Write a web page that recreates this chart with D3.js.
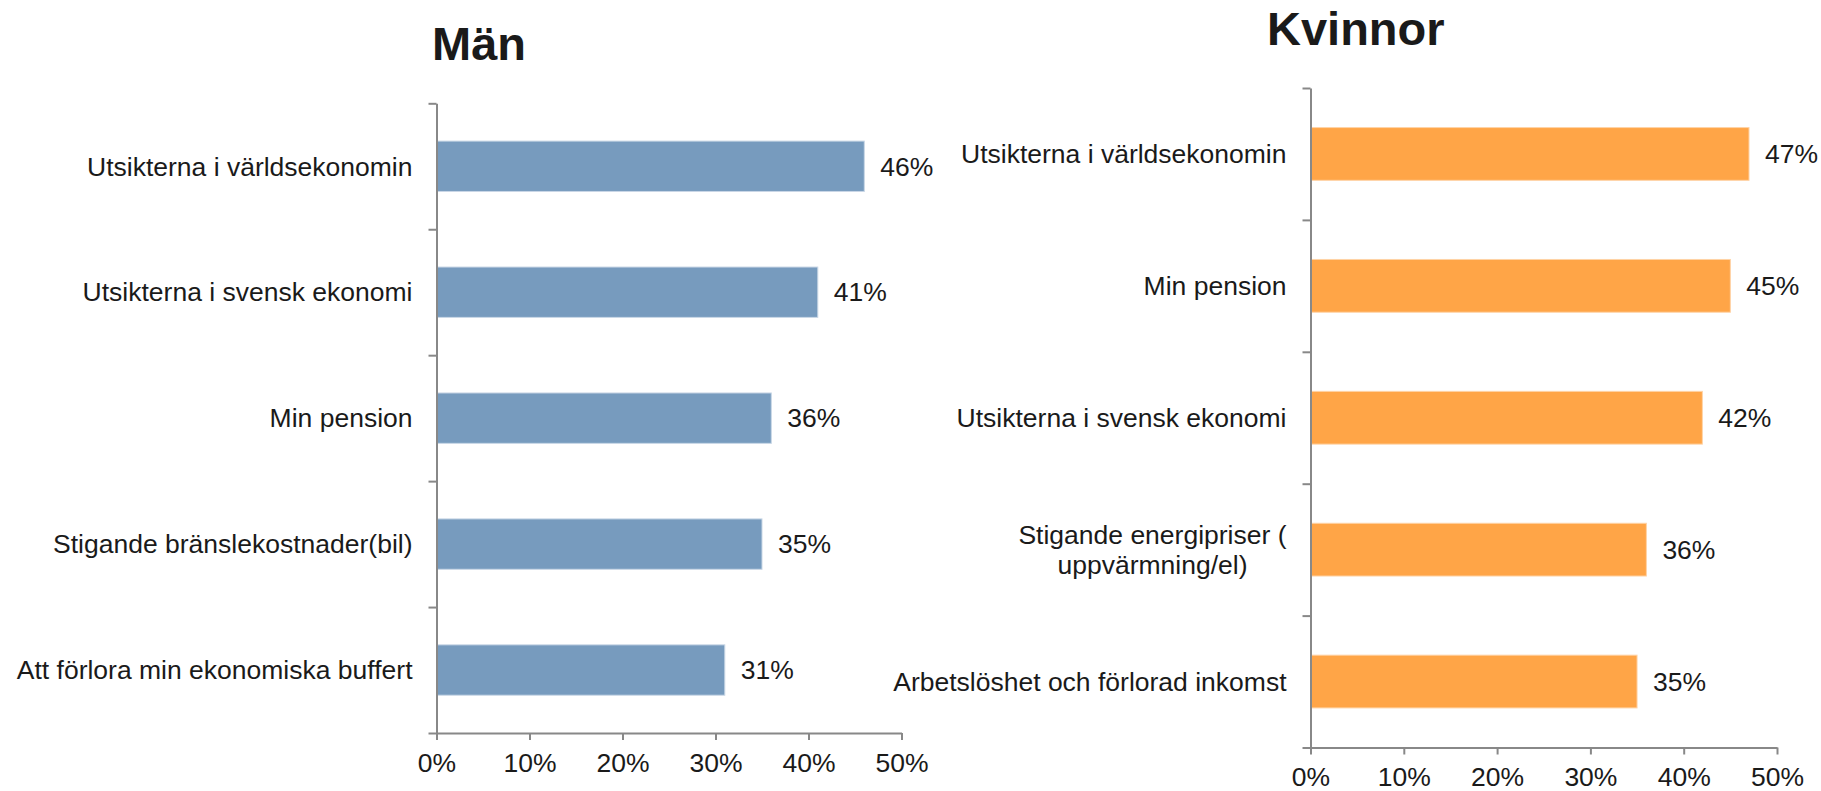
<!DOCTYPE html>
<html>
<head>
<meta charset="utf-8">
<script src="https://cdn.jsdelivr.net/npm/d3@7"></script>
<style>
  body { margin: 0; background: #fff; }
  text { font-family: "Liberation Sans", Arial, sans-serif; fill: #1a1a1a; }
</style>
</head>
<body>
<div id="chart"></div>
<script>
//data
const menTitle = "Män";
const menCategories = [
  "Utsikterna i världsekonomin",
  "Utsikterna i svensk ekonomi",
  "Min pension",
  "Stigande bränslekostnader(bil)",
  "Att förlora min ekonomiska buffert"
];
const menValues = [46, 41, 36, 35, 31];

const womenTitle = "Kvinnor";
const womenCategories = [
  "Utsikterna i världsekonomin",
  "Min pension",
  "Utsikterna i svensk ekonomi",
  "Stigande energipriser (|uppvärmning/el)",
  "Arbetslöshet och förlorad inkomst"
];
const womenValues = [47, 45, 42, 36, 35];

const xTicks = [0, 10, 20, 30, 40, 50];

const width = 1821, height = 791;
const fontSize = 26.5;
const svg = d3.select("#chart").append("svg")
  .attr("width", width)
  .attr("height", height);

//function to draw one panel
const drawPanel = (cfg) => {
  const g = svg.append("g");
  const x = d3.scaleLinear().domain([0, 50]).range([cfg.left, cfg.right]);
  const y = d3.scaleBand()
    .domain(cfg.categories)
    .range([cfg.top, cfg.bottom])
    .paddingInner(0.6)
    .paddingOuter(0.3);
  // band boundaries for the y ticks
  const yEdges = d3.scaleLinear().domain([0, cfg.categories.length]).range([cfg.top, cfg.bottom]);

  // title
  g.append("text")
    .attr("x", cfg.titleX)
    .attr("y", cfg.titleY)
    .style("font-size", "47px")
    .style("font-weight", "bold")
    .text(cfg.title);

  // bars
  g.selectAll("rect.bar")
    .data(cfg.values)
    .enter()
    .append("rect")
    .attr("class", "bar")
    .attr("x", x(0))
    .attr("y", (d, i) => y(cfg.categories[i]))
    .attr("width", (d) => x(d) - x(0))
    .attr("height", y.bandwidth())
    .attr("fill", cfg.color)
    .attr("stroke", cfg.edge)
    .attr("stroke-width", 1);

  // value labels
  g.selectAll("text.value")
    .data(cfg.values)
    .enter()
    .append("text")
    .attr("class", "value")
    .attr("x", (d) => x(d) + 16)
    .attr("y", (d, i) => y(cfg.categories[i]) + y.bandwidth() / 2)
    .attr("dy", "0.35em")
    .style("font-size", fontSize + "px")
    .text((d) => d + "%");

  // category labels (| splits lines)
  cfg.categories.forEach((c, i) => {
    const lines = c.split("|");
    const cy = y(c) + y.bandwidth() / 2;
    const lh = 30;
    const t = g.append("text")
      .attr("text-anchor", "middle")
      .style("font-size", fontSize + "px");
    const spans = lines.map((l, j) =>
      t.append("tspan")
        .attr("y", cy + (j - (lines.length - 1) / 2) * lh)
        .attr("dy", "0.35em")
        .text(l)
    );
    const maxW = d3.max(spans, (s) => s.node().getComputedTextLength());
    spans.forEach((s) => s.attr("x", cfg.left - 24 - maxW / 2));
  });

  // x axis
  const xAxis = g.append("g")
    .attr("transform", "translate(0," + cfg.bottom + ")")
    .call(d3.axisBottom(x)
      .tickValues(xTicks)
      .tickSize(7)
      .tickSizeOuter(0)
      .tickPadding(13)
      .tickFormat((d) => d + "%"));
  xAxis.selectAll("text").style("font-size", fontSize + "px").attr("fill", "#1a1a1a");

  // y axis, ticks at band edges
  g.append("g")
    .attr("transform", "translate(" + cfg.left + ",0)")
    .call(d3.axisLeft(yEdges)
      .ticks(cfg.categories.length)
      .tickSize(8)
      .tickSizeOuter(0)
      .tickFormat(""));

  g.selectAll(".domain, .tick line")
    .attr("stroke", "#888")
    .attr("stroke-width", 2);
};

drawPanel({
  title: menTitle, titleX: 432, titleY: 60,
  categories: menCategories, values: menValues,
  left: 436.5, right: 901.5, top: 103.3, bottom: 733,
  color: "#779BBE", edge: "#c9d7e6"
});

drawPanel({
  title: womenTitle, titleX: 1267, titleY: 45,
  categories: womenCategories, values: womenValues,
  left: 1310.5, right: 1777, top: 88, bottom: 747.5,
  color: "#FFA547", edge: "#ffd3a6"
});
</script>
</body>
</html>
